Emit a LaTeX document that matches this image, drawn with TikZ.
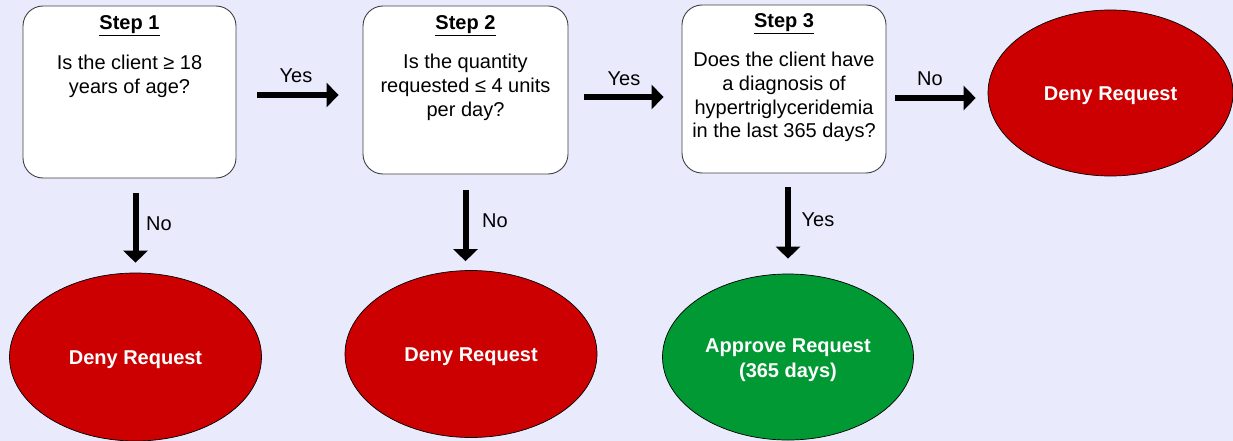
\documentclass[tikz,border=0pt]{standalone}
\usepackage{fontspec}
\setmainfont{Liberation Sans}
\usetikzlibrary{shapes.geometric,arrows.meta,calc}
\definecolor{bg}{RGB}{233,234,252}
\definecolor{denyred}{RGB}{204,0,0}
\definecolor{okgreen}{RGB}{0,153,51}
\begin{document}
\begin{tikzpicture}[x=1pt,y=-1pt,
  stepbox/.style={draw=black!75, line width=0.9pt, fill=white, rounded corners=20pt, inner sep=0pt},
  titletxt/.style={font=\fontsize{20}{22}\selectfont\bfseries, inner sep=0pt},
  qtxt/.style={font=\fontsize{20}{24}\selectfont, align=center, inner sep=0pt, anchor=north},
  outcome/.style={ellipse, draw=black, line width=0.7pt, inner sep=0pt},
  outtxt/.style={text=white, inner sep=0pt, font=\fontsize{20}{25}\selectfont\bfseries, align=center},
  lbl/.style={font=\fontsize{20}{22}\selectfont, inner sep=0pt},
  bigarrow/.style={line width=6pt, -{Triangle[length=12pt,width=24pt]}}
]
\fill[bg] (0,0) rectangle (1233,441);
\useasboundingbox (0,0) rectangle (1233,441);

% step boxes
\node[stepbox, minimum width=213pt, minimum height=172pt] (b1) at (129.5,92) {};
\node[stepbox, minimum width=205pt, minimum height=168pt] (b2) at (465.5,90) {};
\node[stepbox, minimum width=204pt, minimum height=168pt] (b3) at (784,89) {};

\node[titletxt] (t1) at (129.5,26) {\underline{Step 1}};
\node[titletxt] (t2) at (465.5,26) {\underline{Step 2}};
\node[titletxt] (t3) at (784,24) {\underline{Step 3}};

\node[qtxt] (q1) at (129.5,55) {Is the client ≥ 18\\years of age?};
\node[qtxt] (q2) at (465.5,54) {Is the quantity\\requested ≤ 4 units\\per day?};
\node[qtxt, font=\fontsize{20}{23.7}\selectfont] (q3) at (784,52) {Does the client have\\a diagnosis of\\hypertriglyceridemia\\in the last 365 days?};

% outcomes
\node[outcome, fill=denyred, minimum width=252pt, minimum height=168pt] (e1) at (135.5,357) {};
\node[outcome, fill=denyred, minimum width=252pt, minimum height=167pt] (e2) at (471,354) {};
\node[outcome, fill=okgreen, minimum width=251pt, minimum height=166pt] (e3) at (788,357) {};
\node[outcome, fill=denyred, minimum width=245pt, minimum height=166pt] (e4) at (1110.5,93) {};

\node[outtxt] (e1t) at (135.5,359.5) {Deny Request};
\node[outtxt] (e2t) at (471,356.5) {Deny Request};
\node[outtxt] (e3t) at (788,360) {Approve Request\\(365 days)};
\node[outtxt] (e4t) at (1110.5,95.5) {Deny Request};

% horizontal arrows
\draw[bigarrow, shorten <=21pt, shorten >=24pt] ($(b1.east)+(0,3)$) -- ($(b1.east -| b2.west)+(0,3)$);
\draw[bigarrow, shorten <=16pt, shorten >=18pt] ($(b2.east)+(0,7)$) -- ($(b2.east -| b3.west)+(0,7)$);
\draw[bigarrow, shorten <=9pt, shorten >=12pt] ($(b3.east)+(0,9)$) -- ($(b3.east -| e4.west)+(0,9)$);

% vertical arrows
\draw[bigarrow, shorten <=15pt, shorten >=10pt] (e1.north |- b1.south) -- (e1.north);
\draw[bigarrow, shorten <=16pt, shorten >=9pt] (b2.south) -- (b2.south |- e2.north);
\draw[bigarrow, shorten <=14pt, shorten >=15pt] (e3.north |- b3.south) -- (e3.north);

% labels
\node[lbl] (l1) at (296,76) {Yes};
\node[lbl] (l2) at (624,79) {Yes};
\node[lbl] (l3) at (930,79) {No};
\node[lbl] (l4) at (159,224) {No};
\node[lbl] (l5) at (495,221) {No};
\node[lbl] (l6) at (818,220) {Yes};
\end{tikzpicture}
\end{document}
